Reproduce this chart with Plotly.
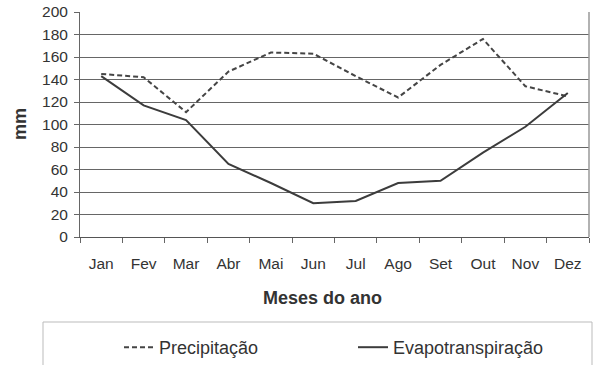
import plotly.graph_objects as go

months = ["Jan", "Fev", "Mar", "Abr", "Mai", "Jun", "Jul", "Ago", "Set", "Out", "Nov", "Dez"]
precipitacao = [145, 142, 111, 147, 164, 163, 143, 124, 153, 176, 134, 125]
evapotranspiracao = [143, 117, 104, 65, 48, 30, 32, 48, 50, 75, 98, 128]

FONT = "Liberation Sans, Arial, sans-serif"
TXT = "#333333"

fig = go.Figure()
fig.add_trace(go.Scatter(
    x=months, y=precipitacao, mode="lines", name="Precipitação",
    line=dict(color="#454545", width=2, dash="5px,3px"), legend="legend"))
fig.add_trace(go.Scatter(
    x=months, y=evapotranspiracao, mode="lines", name="Evapotranspiração",
    line=dict(color="#3c3c3c", width=2), legend="legend2"))

fig.update_layout(
    width=594, height=365,
    margin=dict(l=80, r=5, t=12, b=128, autoexpand=False),
    paper_bgcolor="white", plot_bgcolor="white",
    font=dict(family=FONT, color=TXT, size=15.5),
    xaxis=dict(
        type="category", categoryorder="array", categoryarray=months,
        range=[-0.5, 11.5], tickson="boundaries", ticks="outside", ticklen=5,
        tickcolor="#666666", showline=True, linecolor="#555555", linewidth=1,
        showgrid=False, ticklabelstandoff=12, fixedrange=True,
        tickfont=dict(size=15.5, color=TXT, family=FONT)),
    yaxis=dict(
        range=[0, 200], dtick=20, ticks="outside", ticklen=5, tickcolor="#666666",
        showline=True, linecolor="#666666", linewidth=1,
        showgrid=True, gridcolor="#666666", gridwidth=1, zeroline=False,
        ticklabelstandoff=3, tickfont=dict(size=15.5, color=TXT, family=FONT)),
    legend=dict(x=(119 - 80) / 509, y=(237 - 329) / 225, xanchor="left", yanchor="top",
                orientation="h", bgcolor="rgba(0,0,0,0)", borderwidth=0,
                font=dict(size=18, color=TXT, family=FONT)),
    legend2=dict(x=(353 - 80) / 509, y=(237 - 329) / 225, xanchor="left", yanchor="top",
                 orientation="h", bgcolor="rgba(0,0,0,0)", borderwidth=0,
                 font=dict(size=18, color=TXT, family=FONT)),
    showlegend=True,
    shapes=[
        dict(type="line", xref="paper", yref="paper", x0=1, x1=1, y0=0, y1=1,
             line=dict(color="#999999", width=1.5)),
        dict(type="rect", xref="paper", yref="paper",
             x0=(43 - 80) / 509, x1=(592 - 80) / 509,
             y0=(237 - 372) / 225, y1=(237 - 322) / 225,
             line=dict(color="#bbbbbb", width=1), fillcolor="rgba(0,0,0,0)", layer="below"),
    ],
    annotations=[
        dict(text="<b>mm</b>", xref="paper", yref="paper", x=(20 - 80) / 509, y=(237 - 124) / 225,
             textangle=-90, showarrow=False, xanchor="center", yanchor="middle",
             font=dict(size=18, color=TXT, family=FONT)),
        dict(text="<b>Meses do ano</b>", xref="paper", yref="paper", x=(322 - 80) / 509,
             y=(237 - 298) / 225, showarrow=False, xanchor="center", yanchor="middle",
             font=dict(size=18, color=TXT, family=FONT)),
    ],
)

fig.write_html("out.html")
